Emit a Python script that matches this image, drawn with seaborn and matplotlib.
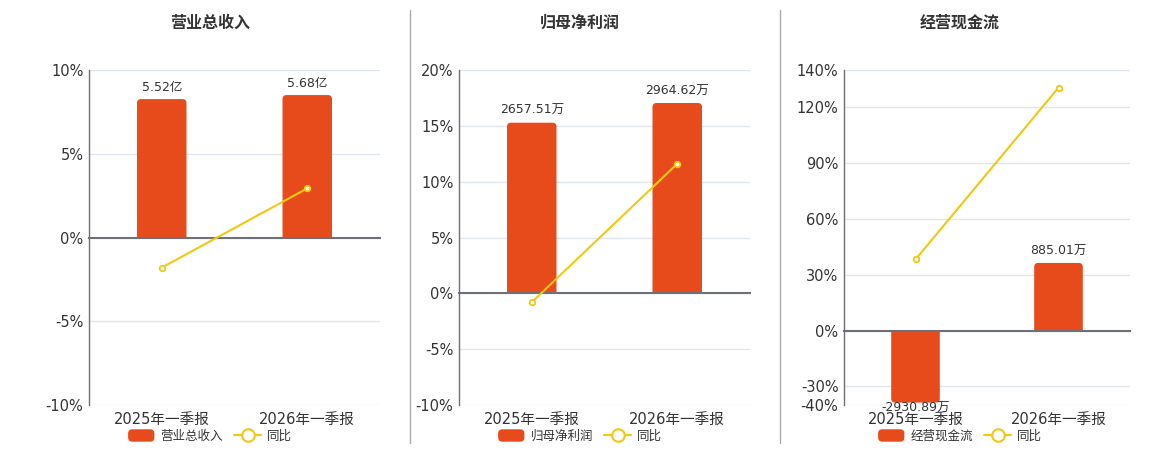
import matplotlib
matplotlib.use('Agg')
import matplotlib.pyplot as plt
import seaborn as sns
import numpy as np
from matplotlib.lines import Line2D
from matplotlib.patches import FancyBboxPatch, Patch
from matplotlib.legend_handler import HandlerPatch
from matplotlib.transforms import Bbox, TransformedBbox

# ---------------- data ----------------
periods = ['2025年一季报', '2026年一季报']
titles = ['营业总收入', '归母净利润', '经营现金流']

revenue = [5.52, 5.68]                 # 亿
revenue_labels = ['5.52亿', '5.68亿']
profit = [2657.51, 2964.62]            # 万
profit_labels = ['2657.51万', '2964.62万']
cashflow = [-2930.89, 885.01]          # 万
cashflow_labels = ['-2930.89万', '885.01万']

revenue_yoy = [-1.8, 2.93]
profit_yoy = [-0.8, 11.6]
cashflow_yoy = [38.2, 130.5]

pct_ticks = [[-10, -5, 0, 5, 10],
             [-10, -5, 0, 5, 10, 15, 20],
             [-40, -30, 0, 30, 60, 90, 120, 140]]
pct_limits = [(-10, 10), (-10, 20), (-40, 140)]
bar_limits = [(-6.68, 6.68), (-1748, 3480), (-989, 3430)]

bar_values = [revenue, profit, cashflow]
bar_labels = [revenue_labels, profit_labels, cashflow_labels]
yoy_values = [revenue_yoy, profit_yoy, cashflow_yoy]

# ---------------- style ----------------
sns.set_theme(style='white')
plt.rcParams['font.family'] = ['DejaVu Sans', 'Noto Sans CJK SC']
plt.rcParams['axes.unicode_minus'] = False

BAR = '#E84B1B'
LINE = '#F2C811'
AXIS = '#6E7079'
GRID = '#E0E6F1'
TXT = '#333333'

W, H = 1160, 450
fig = plt.figure(figsize=(W / 100, H / 100), dpi=100)
fig.patch.set_facecolor('white')

axes_px = [(89, 380), (459, 750), (844, 1130)]
top_px, bot_px = 70, 405
centers_px = [210, 580, 960]


class HandlerRound(HandlerPatch):
    def create_artists(self, legend, orig_handle, xdescent, ydescent,
                       width, height, fontsize, trans):
        p = FancyBboxPatch((-xdescent, -ydescent), width, height,
                           boxstyle='round,pad=0,rounding_size=3',
                           fc=orig_handle.get_facecolor(), ec='none',
                           transform=trans)
        return [p]


def round_bars(axb, ax_w, ax_h, radius_px=4):
    x0, x1 = axb.get_xlim()
    y0, y1 = axb.get_ylim()
    rx = radius_px * (x1 - x0) / ax_w
    ry = radius_px * (y1 - y0) / ax_h
    for rect in list(axb.patches):
        x, w, h = rect.get_x(), rect.get_width(), rect.get_height()
        fc = rect.get_facecolor()
        rect.remove()
        s = 1 if h >= 0 else -1
        # keep the visible end inside the axes so its rounded corners show
        h = min(max(h, y0 + 0.6 * ry), y1)
        base = -s * ry
        lo, hi = min(base, h), max(base, h)
        p = FancyBboxPatch((x, lo), w, hi - lo,
                           boxstyle=f'round,pad=0,rounding_size={rx}',
                           mutation_aspect=ry / rx, fc=fc, ec='none',
                           zorder=2)
        axb.add_patch(p)
        clip = Bbox([[x - 1, 0], [x + w + 1, y1]]) if s > 0 else \
            Bbox([[x - 1, y0], [x + w + 1, 0]])
        p.set_clip_box(TransformedBbox(clip, axb.transData))


xs = np.arange(len(periods))

for i in range(3):
    l, r = axes_px[i]
    ax_w, ax_h = r - l, bot_px - top_px
    ax = fig.add_axes([l / W, 1 - bot_px / H, ax_w / W, ax_h / H])
    axb = ax.twinx()
    axl = ax.twinx()

    # bars
    sns.barplot(x=xs, y=bar_values[i], ax=axb, color=BAR, width=0.34,
                saturation=1, linewidth=0)
    axb.set_ylim(*bar_limits[i])
    axb.set_xlim(-0.5, len(periods) - 0.5)

    # line
    sns.lineplot(x=xs, y=yoy_values[i], ax=axl, color=LINE, lw=1.5,
                 marker='o', markersize=4, markerfacecolor='white',
                 markeredgecolor=LINE, markeredgewidth=1.3, zorder=5)
    axl.set_ylim(*pct_limits[i])
    ax.set_ylim(*pct_limits[i])
    ax.set_xlim(-0.5, len(periods) - 0.5)

    round_bars(axb, ax_w, ax_h)

    # bar labels
    lo = bar_limits[i][0]
    for xi, v, lab in zip(xs, bar_values[i], bar_labels[i]):
        if v >= 0:
            axb.annotate(lab, (xi, v), xytext=(0, 4), textcoords='offset points',
                         ha='center', va='bottom', fontsize=9, color=TXT, zorder=6)
        else:
            axb.annotate(lab, (xi, max(v, lo)), xytext=(0, 2), textcoords='offset points',
                         ha='center', va='top', fontsize=9, color=TXT, zorder=6,
                         annotation_clip=False)

    # percent axis (ticks + grid)
    ax.set_yticks(pct_ticks[i])
    ax.set_yticklabels([f'{t}%' for t in pct_ticks[i]])
    ax.grid(axis='y', color=GRID, lw=1)
    ax.grid(axis='x', visible=False)
    ax.tick_params(axis='y', length=0, pad=4, labelsize=10.5, labelcolor=TXT)
    ax.set_xticks(xs)
    ax.set_xticklabels(periods)
    ax.set_xticks([-0.5, 0.5, 1.5], minor=True)
    ax.tick_params(axis='x', which='major', length=0, pad=5, labelsize=10.5, labelcolor=TXT)
    ax.tick_params(axis='x', which='minor', length=0)
    for sp in ['top', 'right', 'bottom']:
        ax.spines[sp].set_visible(False)
    ax.spines['left'].set_color(AXIS)
    ax.spines['left'].set_linewidth(1)
    ax.set_xlabel('')

    axb.set_yticks([])
    axb.set_ylabel('')
    axb.set_xlabel('')
    for sp in axb.spines.values():
        sp.set_visible(False)
    axb.tick_params(axis='x', which='both', length=0, labelbottom=False)

    # line axis: zero baseline with boundary ticks
    axl.set_yticks([])
    axl.set_ylabel('')
    axl.set_xlabel('')
    for sp in ['top', 'right', 'left']:
        axl.spines[sp].set_visible(False)
    axl.spines['bottom'].set_position(('data', 0))
    axl.spines['bottom'].set_color(AXIS)
    axl.spines['bottom'].set_linewidth(1.5)
    axl.spines['bottom'].set_zorder(4)
    axl.tick_params(axis='x', which='major', length=0, labelbottom=False)
    axl.tick_params(axis='x', which='minor', length=5, width=1, color=AXIS,
                    direction='out', labelbottom=False)

    # title
    fig.text(centers_px[i] / W, 1 - 23 / H, titles[i], ha='center', va='center',
             fontsize=11.5, fontweight='bold', color=TXT)

    # legend
    handles = [Patch(facecolor=BAR),
               Line2D([], [], color=LINE, lw=1.5, marker='o', markersize=9,
                      markerfacecolor='white', markeredgecolor=LINE, markeredgewidth=1.5)]
    fig.legend(handles, [titles[i], '同比'], loc='center',
               bbox_to_anchor=(centers_px[i] / W, 1 - 436 / H), ncol=2,
               frameon=False, fontsize=9, labelcolor=TXT,
               handlelength=2.1, handleheight=1.15, handletextpad=0.5,
               columnspacing=0.9, borderpad=0, borderaxespad=0,
               handler_map={Patch: HandlerRound()})

# separators
for xp in (410, 780):
    fig.add_artist(Line2D([xp / W, xp / W], [1 - 443 / H, 1 - 10 / H],
                          color='#AAAAAA', lw=1))

fig.savefig('out.png', dpi=100, facecolor='white')
